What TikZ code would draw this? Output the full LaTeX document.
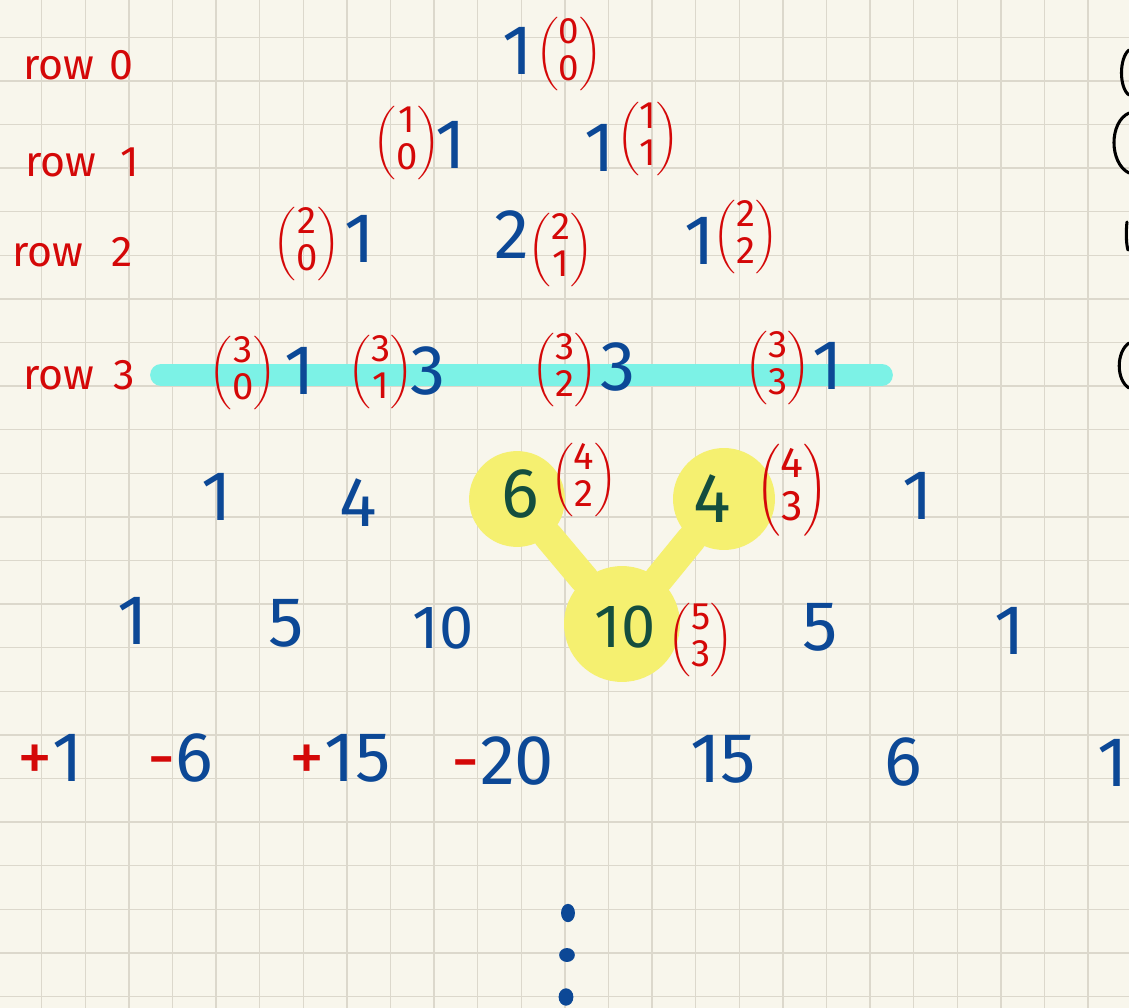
\documentclass[tikz,border=0pt]{standalone}
\usepackage{fontspec}
\setmainfont{Fira Sans}
\usepackage{xcolor}
\definecolor{paper}{RGB}{248,246,236}
\definecolor{gridline}{RGB}{220,216,204}
\definecolor{inkblue}{RGB}{12,72,150}
\definecolor{inkred}{RGB}{212,8,8}
\definecolor{inkgreen}{RGB}{20,78,62}
\definecolor{hlyellow}{RGB}{245,240,112}
\definecolor{hlcyan}{RGB}{124,242,230}
\newcommand{\bnm}[2]{$\left(\vcenter{\hbox{\begin{tabular}{@{}c@{}}#1\\[-1pt]#2\end{tabular}}}\right)$}

\begin{document}
\begin{tikzpicture}[
  x=0.01147cm, y=-0.01147cm,
  num/.style={text=inkblue,font=\fontsize{23}{26}\selectfont,inner sep=0pt},
  smallnum/.style={num,font=\fontsize{20}{22}\selectfont},
  hlnum/.style={text=inkgreen},
  bnmnode/.style={text=inkred,font=\fontsize{12.5}{13}\selectfont,inner sep=0pt},
  rowlbl/.style={text=inkred,font=\fontsize{14}{16}\selectfont,anchor=west,inner sep=0pt},
  hlspot/.style={circle,fill=hlyellow,inner sep=0pt},
  hllink/.style={draw=hlyellow,line width=0.34cm,line cap=round},
  gridln/.style={draw=gridline,line width=0.5pt},
]
  % paper
  \fill[paper] (0,0) rectangle (1129,1008);
  \useasboundingbox (0,0) rectangle (1129,1008);
  \foreach \k in {0,...,24}
    \draw[gridln] ({41.7+43.6*\k},0) -- ({41.7+43.6*\k},1008);
  \foreach \k in {0,...,22}
    \draw[gridln] (0,{37.3+43.6*\k}) -- (1129,{37.3+43.6*\k});

  % highlighter marks
  \draw[draw=hlcyan,line width=0.25cm,line cap=round] (161,375) -- (882,375);
  \node[hlspot,minimum size=1.10cm] (hl6) at (517,499) {};
  \node[hlspot,minimum size=1.17cm] (hl4) at (724,499) {};
  \node[hlspot,minimum size=1.33cm] (hl10) at (622,624) {};
  \draw[hllink] (hl6) -- (hl10);
  \draw[hllink] (hl4) -- (hl10);

  % row labels
  \node[rowlbl] (lbl0) at (23,65) {row\hspace{0.35em}0};
  \node[rowlbl] (lbl1) at (25,162) {row\hspace{0.55em}1};
  \node[rowlbl] (lbl2) at (12,252) {row\hspace{0.65em}2};
  \node[rowlbl] (lbl3) at (23,375) {row\hspace{0.45em}3};

  % row 0
  \node[num] (n00) at (518,51) {1};
  \node[bnmnode,font=\fontsize{12}{13}\selectfont] (b00) at (569,54) {\bnm{0}{0}};
  % row 1
  \node[bnmnode] (b10) at (407,143) {\bnm{1}{0}};
  \node[num] (n10) at (451,145) {1};
  \node[num] (n11) at (600,148) {1};
  \node[bnmnode] (b11) at (648,139) {\bnm{1}{1}};
  % row 2
  \node[bnmnode] (b20) at (307,244) {\bnm{2}{0}};
  \node[num] (n20) at (360,239) {1};
  \node[num] (n21) at (512,235) {2};
  \node[bnmnode] (b21) at (561,250) {\bnm{2}{1}};
  \node[num] (n22) at (700,241) {1};
  \node[bnmnode] (b22) at (746,237) {\bnm{2}{2}};
  % row 3
  \node[bnmnode] (b30) at (243,373) {\bnm{3}{0}};
  \node[num] (n30) at (300,371) {1};
  \node[bnmnode] (b31) at (381,372) {\bnm{3}{1}};
  \node[num] (n31) at (428,371) {3};
  \node[bnmnode] (b32) at (565,370) {\bnm{3}{2}};
  \node[num] (n32) at (618,367) {3};
  \node[bnmnode] (b33) at (778,368) {\bnm{3}{3}};
  \node[num] (n33) at (828,366) {1};
  % row 4
  \node[num] (n40) at (217,497) {1};
  \node[num] (n41) at (358,503) {4};
  \node[num,hlnum] (n42) at (520,494) {6};
  \node[bnmnode] (b42) at (584,480) {\bnm{4}{2}};
  \node[num,hlnum] (n43) at (712,499) {4};
  \node[bnmnode,font=\fontsize{14}{15}\selectfont] (b43) at (792,490) {\bnm{4}{3}};
  \node[num] (n44) at (918,496) {1};
  % row 5
  \node[num] (n50) at (133,621) {1};
  \node[num] (n51) at (286,623) {5};
  \node[smallnum] (n52) at (443,628) {10};
  \node[smallnum,hlnum] (n53) at (625,627) {10};
  \node[bnmnode] (b53) at (701,640) {\bnm{5}{3}};
  \node[num] (n54) at (820,627) {5};
  \node[num] (n55) at (1010,631) {1};
  % row 6 with signs
  \node[num] (n60) at (50,758) {\textcolor{inkred}{+}1};
  \node[num] (n61) at (180,758) {\textcolor{inkred}{-}6};
  \node[num] (n62) at (340,758) {\textcolor{inkred}{+}15};
  \node[num] (n63) at (503,761) {\textcolor{inkred}{-}20};
  \node[num] (n64) at (723,759) {15};
  \node[num] (n65) at (903,762) {6};
  \node[num,anchor=east] (n66) at (1129,763) {1};

  % dots
  \fill[inkblue] (568,913) ellipse [x radius=0.08cm,y radius=0.105cm];
  \fill[inkblue] (567,955) ellipse [x radius=0.09cm,y radius=0.08cm];
  \fill[inkblue] (566,997) ellipse [x radius=0.085cm,y radius=0.1cm];

  % cut-off brackets at right edge
  \draw[black,line width=1pt,line cap=round]
    (1129,50) .. controls (1119,58) and (1119,88) .. (1129,95)
    (1129,113) .. controls (1109,122) and (1109,163) .. (1129,173)
    (1127,222) .. controls (1126,230) and (1126,244) .. (1128,250)
    (1129,343) .. controls (1116,352) and (1116,380) .. (1129,388);
\end{tikzpicture}
\end{document}
